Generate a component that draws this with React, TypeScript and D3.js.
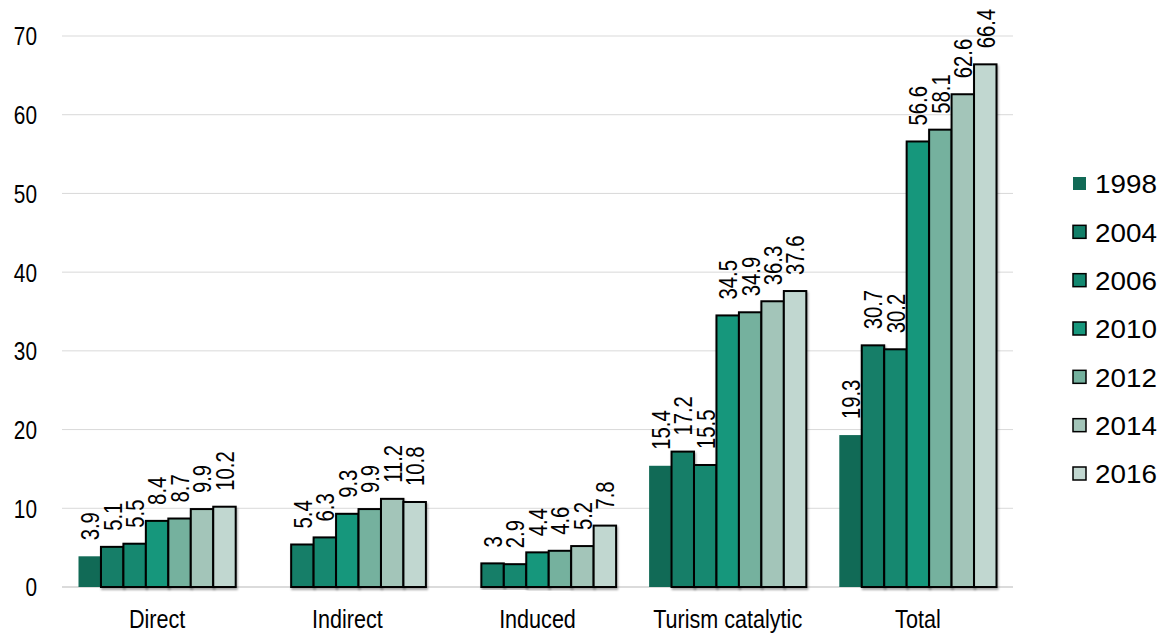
import React from "react";
import * as d3 from "d3";

const categories = ["Direct", "Indirect", "Induced", "Turism catalytic", "Total"];
const years = ["1998", "2004", "2006", "2010", "2012", "2014", "2016"];

// One array per year, aligned with categories (null = no value)
const values1998: (number | null)[] = [3.9, null, null, 15.4, 19.3];
const values2004: (number | null)[] = [5.1, 5.4, 3, 17.2, 30.7];
const values2006: (number | null)[] = [5.5, 6.3, 2.9, 15.5, 30.2];
const values2010: (number | null)[] = [8.4, 9.3, 4.4, 34.5, 56.6];
const values2012: (number | null)[] = [8.7, 9.9, 4.6, 34.9, 58.1];
const values2014: (number | null)[] = [9.9, 11.2, 5.2, 36.3, 62.6];
const values2016: (number | null)[] = [10.2, 10.8, 7.8, 37.6, 66.4];

const seriesValues = [values1998, values2004, values2006, values2010, values2012, values2014, values2016];
const colors = ["#116a56", "#127e68", "#138870", "#17977c", "#74b19e", "#a3c5b9", "#c1d7d0"];
const yTicks = [0, 10, 20, 30, 40, 50, 60, 70];

const W = 1168;
const H = 635;
const plot = { left: 62, right: 1013, top: 36, bottom: 587 };
const FONT = "'Liberation Sans', Arial, sans-serif";

export default function App() {
  const x = d3.scaleBand<string>().domain(categories).range([plot.left, plot.right]).padding(0);
  const inner = d3
    .scaleBand<string>()
    .domain(years)
    .range([16.5, x.bandwidth() - 16.5])
    .padding(0);
  const y = d3.scaleLinear().domain([0, 70]).range([plot.bottom, plot.top]);

  const legendY = d3.scalePoint<string>().domain(years).range([184, 474]);

  return (
    <svg width={W} height={H} style={{ position: "absolute", left: 0, top: 0 }} fontFamily={FONT}>
      <defs>
        <filter id="barShadow" x="-10%" y="-10%" width="130%" height="120%">
          <feDropShadow dx="1" dy="2" stdDeviation="0.8" floodColor="#000" floodOpacity="0.35" />
        </filter>
      </defs>
      <rect width={W} height={H} fill="#fff" />

      {/* gridlines */}
      {yTicks.map((t) => (
        <line
          key={t}
          x1={plot.left}
          x2={plot.right}
          y1={y(t)}
          y2={y(t)}
          stroke={t === 0 ? "#cfcfcf" : "#d9d9d9"}
          strokeWidth={t === 0 ? 1.5 : 1}
        />
      ))}

      {/* y tick labels */}
      {yTicks.map((t) => (
        <text
          key={t}
          transform={`translate(37,${y(t)}) scale(0.8,1)`}
          dy="0.36em"
          textAnchor="end"
          fontSize={26}
          fill="#000"
        >
          {t}
        </text>
      ))}

      {/* bars */}
      {categories.map((cat, ci) => (
        <g key={cat} transform={`translate(${x(cat)},0)`}>
          {years.map((yr, si) => {
            const v = seriesValues[si][ci];
            if (v == null) return null;
            const bx = inner(yr)!;
            const bw = inner.bandwidth();
            const bordered = si > 0;
            return (
              <rect
                key={yr}
                x={bx}
                y={y(v)}
                width={bw}
                height={y(0) - y(v)}
                fill={colors[si]}
                stroke={bordered ? "#000" : "none"}
                strokeWidth={bordered ? 2 : 0}
                filter={bordered ? "url(#barShadow)" : undefined}
              />
            );
          })}
          {years.map((yr, si) => {
            const v = seriesValues[si][ci];
            if (v == null) return null;
            const cx = inner(yr)! + inner.bandwidth() / 2;
            const ty = y(v) - 16;
            return (
              <text
                key={yr}
                transform={`translate(${cx},${ty}) rotate(-90) scale(0.78,1)`}
                dy="0.36em"
                textAnchor="start"
                fontSize={26}
                fill="#000"
              >
                {v}
              </text>
            );
          })}
        </g>
      ))}

      {/* category labels */}
      {categories.map((cat) => (
        <text
          key={cat}
          transform={`translate(${x(cat)! + x.bandwidth() / 2},628) scale(0.83,1)`}
          textAnchor="middle"
          fontSize={26}
          fill="#000"
        >
          {cat}
        </text>
      ))}

      {/* legend */}
      {years.map((yr, si) => (
        <g key={yr} transform={`translate(0,${legendY(yr)})`}>
          <rect
            x={1073}
            y={-7}
            width={13}
            height={13}
            fill={colors[si]}
            stroke={si > 0 ? "#000" : "none"}
            strokeWidth={si > 0 ? 1.5 : 0}
          />
          <text transform="translate(1095,0) scale(1.07,1)" dy="0.36em" fontSize={26} fill="#000">
            {yr}
          </text>
        </g>
      ))}
    </svg>
  );
}
